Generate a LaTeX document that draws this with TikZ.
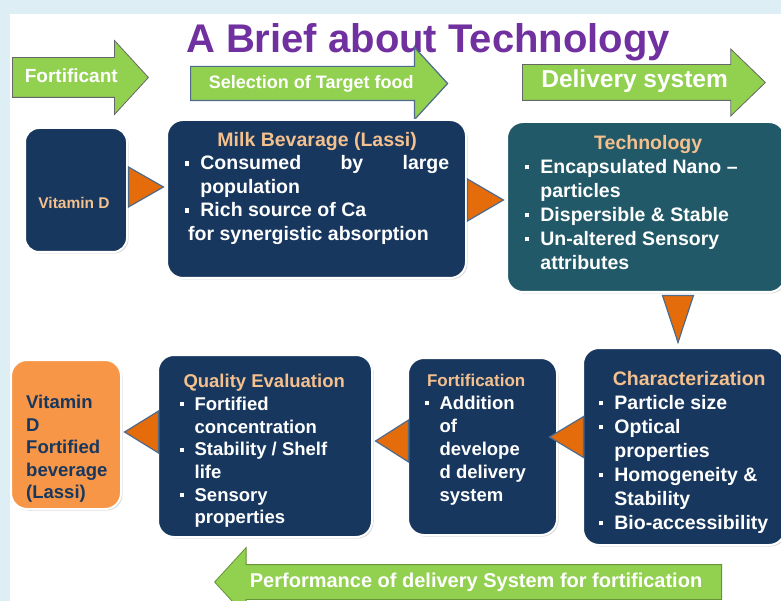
\documentclass[tikz,border=0pt]{standalone}
\usepackage{fontspec}
\setmainfont{Liberation Sans}
\usetikzlibrary{shapes.geometric,shapes.arrows,shadows}
\definecolor{navy}{HTML}{17375E}
\definecolor{techteal}{HTML}{215968}
\definecolor{peach}{HTML}{F4C08E}
\definecolor{leaf}{HTML}{92D050}
\definecolor{pumpkin}{HTML}{E46C0A}
\definecolor{lightorange}{HTML}{F79646}
\definecolor{plum}{HTML}{7030A0}
\definecolor{slate}{HTML}{4F6B8C}
\definecolor{pale}{HTML}{DEEEF5}
\tikzstyle{box}=[rounded corners=16pt, draw=white, line width=2pt, drop shadow={opacity=0.3, shadow xshift=1.5pt, shadow yshift=-1.5pt}]
\tikzstyle{navybox}=[box, fill=navy]
\tikzstyle{tri}=[isosceles triangle, isosceles triangle stretches, draw=slate, line width=1.2pt, fill=pumpkin, inner sep=0pt, anchor=apex]
\tikzstyle{banner}=[single arrow, single arrow tip angle=95, fill=leaf, draw=black!60, line width=0.8pt, text=white, text height=14pt, text depth=4pt, inner xsep=2pt, anchor=tail]
\tikzstyle{txt}=[text=white, font=\bfseries\fontsize{18.5}{23.5}\selectfont, align=left, inner sep=0pt, anchor=north west]
\newcommand{\bul}{\makebox[0.78em][l]{\rule[0.22em]{0.22em}{0.22em}}}
\newcommand{\cont}{\hspace*{0.78em}}
\newcommand{\boxhead}[1]{\textcolor{peach}{#1}}
\begin{document}
\begin{tikzpicture}[x=1pt,y=-1pt]
    \clip (0,0) rectangle (781,601);
    \fill[pale] (0,0) rectangle (781,601);
    \fill[white] (10,14) rectangle (781,601);

    \node[font=\bfseries\fontsize{40}{40}\selectfont, text=plum, anchor=base] (title) at (428,53) {A Brief about Technology};

    \node[banner, minimum height=136pt, single arrow head extend=17pt, inner ysep=10.5pt, font=\bfseries\fontsize{19}{19}\selectfont] (fortificant) at (12,77.5) {Fortificant};
    \node[banner, minimum height=257pt, single arrow head extend=19pt, inner ysep=7.5pt, draw=slate, line width=1.2pt, font=\bfseries\fontsize{18}{18}\selectfont] (selection) at (190,83.5) {Selection of Target food};
    \node[banner, minimum height=243pt, single arrow head extend=15.5pt, single arrow tip angle=88, inner ysep=8.5pt, font=\bfseries\fontsize{24.5}{24.5}\selectfont] (delivery) at (522,82.5) {Delivery system};
    \node[banner, minimum height=507pt, single arrow head extend=17pt, shape border rotate=180, inner ysep=8pt, draw=leaf!70!black, font=\bfseries\fontsize{20}{20}\selectfont] (performance) at (722,582) {Performance of delivery System for fortification};

    \node[navybox, rounded corners=14pt, minimum width=102pt, minimum height=124pt] (vitd) at (76,190) {};
    \node[navybox, minimum width=299pt, minimum height=158pt] (milk) at (316.5,199) {};
    \node[box, fill=techteal, minimum width=278pt, minimum height=170pt] (tech) at (646,207) {};
    \node[navybox, minimum width=202pt, minimum height=197pt] (charac) at (684,446.5) {};
    \node[navybox, minimum width=149pt, minimum height=177pt] (fort) at (482.5,446.5) {};
    \node[navybox, minimum width=214pt, minimum height=182pt] (qual) at (265,446) {};
    \node[box, fill=lightorange, minimum width=110pt, minimum height=149pt] (final) at (66,434.5) {};

    \node[font=\bfseries\fontsize{15.5}{15.5}\selectfont, text=peach] (vitdtxt) at (74,203) {Vitamin D};
    \node[txt, font=\bfseries\fontsize{19.5}{23.5}\selectfont] (milktxt) at (185,132) {\makebox[264pt]{\boxhead{Milk Bevarage (Lassi)}}\\
        \hbox to 264pt{\bul Consumed\hfill by\hfill large}\\
        \cont population\\
        \bul Rich source of Ca\\
        \hspace*{3pt}for synergistic absorption};
    \node[txt, font=\bfseries\fontsize{19.5}{24}\selectfont] (techtxt) at (525,135) {\makebox[246pt]{\boxhead{Technology}}\\
        \bul Encapsulated Nano --\\
        \cont particles\\
        \bul Dispersible \& Stable\\
        \bul Un-altered Sensory\\
        \cont attributes};
    \node[txt, font=\bfseries\fontsize{19.5}{24}\selectfont] (charactxt) at (599,371) {\makebox[180pt]{\boxhead{Characterization}}\\
        \bul Particle size\\
        \bul Optical\\
        \cont properties\\
        \bul Homogeneity \&\\
        \cont Stability\\
        \bul Bio-accessibility};
    \node[txt, font=\bfseries\fontsize{18.5}{23}\selectfont] (forttxt) at (425,374) {\makebox[102pt]{\boxhead{\fontsize{17}{23}\selectfont Fortification}}\\
        \bul Addition\\
        \cont of\\
        \cont develope\\
        \cont d delivery\\
        \cont system};
    \node[txt, font=\bfseries\fontsize{18.5}{22.7}\selectfont] (qualtxt) at (180,374) {\makebox[168pt]{\boxhead{Quality Evaluation}}\\
        \bul Fortified\\
        \cont concentration\\
        \bul Stability / Shelf\\
        \cont life\\
        \bul Sensory\\
        \cont properties};
    \node[txt, text=navy, font=\bfseries\fontsize{18.5}{22.5}\selectfont] (finaltxt) at (26,395) {Vitamin\\D\\Fortified\\beverage\\(Lassi)};

    \node[tri, minimum height=35pt, minimum width=40pt] (t1) at (165,187) {};
    \node[tri, minimum height=36pt, minimum width=42pt] (t2) at (505,200) {};
    \node[tri, minimum height=47pt, minimum width=31pt, rotate=-90] (t3) at (678,344) {};
    \node[tri, minimum height=34pt, minimum width=41pt, rotate=180] (t4) at (548,437) {};
    \node[tri, minimum height=33pt, minimum width=42pt, rotate=180] (t5) at (374,441) {};
    \node[tri, minimum height=34pt, minimum width=42pt, rotate=180] (t6) at (123,432) {};
\end{tikzpicture}
\end{document}
